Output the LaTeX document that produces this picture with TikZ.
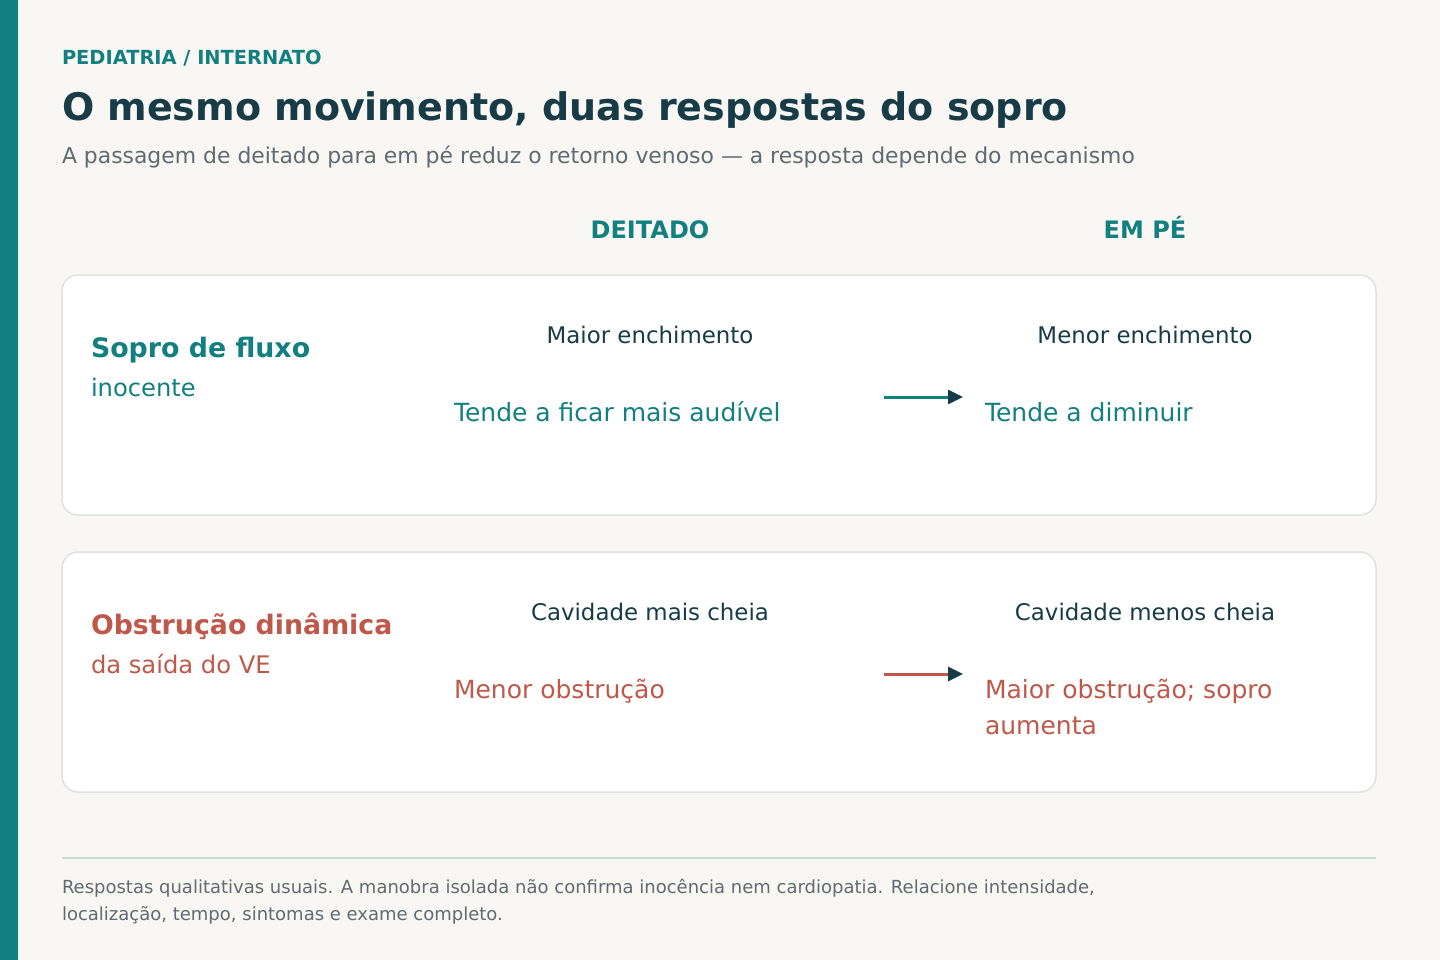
\documentclass[tikz,border=0pt]{standalone}
\usepackage{fontspec}
\setmainfont{DejaVu Sans}
\usetikzlibrary{arrows.meta}
\definecolor{bg}{HTML}{F8F7F3}
\definecolor{teal}{HTML}{127F80}
\definecolor{navy}{HTML}{173C47}
\definecolor{greytxt}{HTML}{5F6B70}
\definecolor{rust}{HTML}{C0584A}
\definecolor{cardline}{HTML}{DDE3E1}
\definecolor{sepline}{HTML}{CED8D6}
\newcommand{\fs}[2]{\fontsize{#1}{#2}\selectfont}
\begin{document}
\begin{tikzpicture}[x=1pt,y=-1pt,
  txt/.style={inner sep=0pt,outer sep=0pt},
  lt/.style={txt,anchor=base west},
  ct/.style={txt,anchor=base},
  card/.style={draw=cardline,line width=1.5pt,fill=white,rounded corners=16pt},
  flow/.style={line width=3pt,-{Triangle[length=15pt,width=14pt,color=navy]}}
]
\useasboundingbox (0,0) rectangle (1440,960);
\fill[bg] (0,0) rectangle (1440,960);
\fill[teal] (0,0) rectangle (18,960);

\node[lt,text=teal] (kicker) at (62,65) {\fs{19.4}{23}\bfseries PEDIATRIA / INTERNATO};
\node[lt,text=navy] (title) at (62,121) {\fs{38}{46}\bfseries O mesmo movimento, duas respostas do sopro};
\node[lt,text=greytxt] (sub) at (62,164) {\fs{21.9}{26}A passagem de deitado para em pé reduz o retorno venoso — a resposta depende do mecanismo};

\node[ct,text=teal] (h1) at (650,238) {\fs{24}{28}\bfseries DEITADO};
\node[ct,text=teal] (h2) at (1145,238) {\fs{24}{28}\bfseries EM PÉ};

% card 1
\path[card] (62,275) rectangle (1376,515);
\node[lt,text=teal] (r1a) at (91,357) {\fs{26.8}{32}\bfseries Sopro de fluxo};
\node[lt,text=teal] (r1b) at (91,396) {\fs{24.2}{29}inocente};
\node[ct,text=navy] (r1c) at (650,343) {\fs{22.9}{27}Maior enchimento};
\node[ct,text=navy] (r1d) at (1145,343) {\fs{22.9}{27}Menor enchimento};
\node[lt,text=teal] (r1e) at (454,421) {\fs{25}{30}Tende a ficar mais audível};
\node[lt,text=teal] (r1f) at (985,421) {\fs{25}{30}Tende a diminuir};
\coordinate (a1s) at (884,397);
\coordinate (a1e) at (963,397);
\draw[flow,teal] (a1s) -- (a1e);

% card 2
\path[card] (62,552) rectangle (1376,792);
\node[lt,text=rust] (r2a) at (91,634) {\fs{26.8}{32}\bfseries Obstrução dinâmica};
\node[lt,text=rust] (r2b) at (91,673) {\fs{24.2}{29}da saída do VE};
\node[ct,text=navy] (r2c) at (650,620) {\fs{22.9}{27}Cavidade mais cheia};
\node[ct,text=navy] (r2d) at (1145,620) {\fs{22.9}{27}Cavidade menos cheia};
\node[lt,text=rust] (r2e) at (454,698) {\fs{25}{30}Menor obstrução};
\node[lt,text=rust] (r2f) at (985,698) {\fs{25}{36}\begin{tabular}[t]{@{}l@{}}Maior obstrução; sopro\\aumenta\end{tabular}};
\coordinate (a2s) at (884,674);
\coordinate (a2e) at (963,674);
\draw[flow,rust] (a2s) -- (a2e);

% footer
\coordinate (s1) at (62,858);
\coordinate (s2) at (1376,858);
\draw[sepline,line width=2pt] (s1) -- (s2);
\node[lt,text=greytxt] (foot1) at (62,893) {\fs{18}{27}Respostas qualitativas usuais. A manobra isolada não confirma inocência nem cardiopatia. Relacione intensidade,};
\node[lt,text=greytxt] (foot2) at (62,920) {\fs{18}{27}localização, tempo, sintomas e exame completo.};
\end{tikzpicture}
\end{document}
